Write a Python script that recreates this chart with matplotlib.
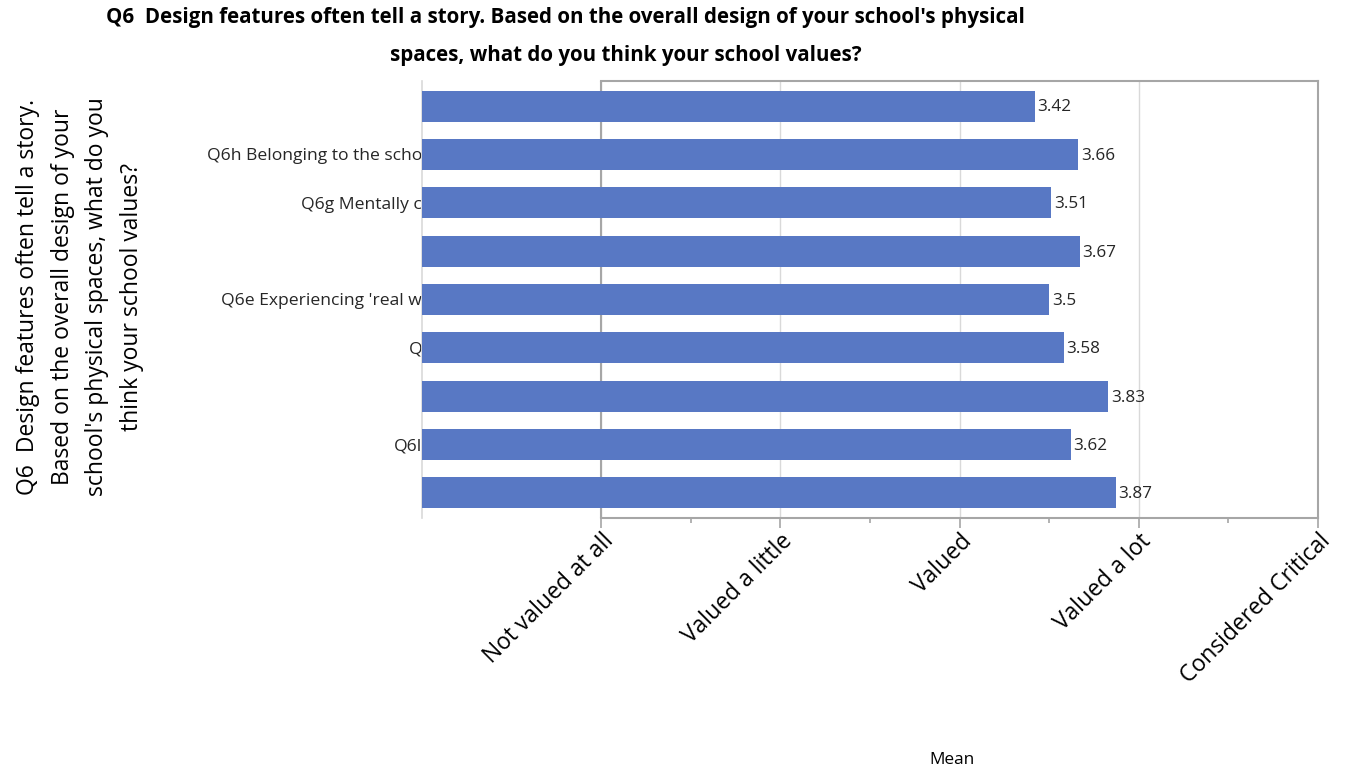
import numpy as np
import matplotlib.pyplot as plt

plt.rcParams["font.family"] = ["Open Sans", "DejaVu Sans"]

# rows top to bottom (only the visible fragments of the item labels)
ITEM_LABELS = [
    "",
    "Q6h Belonging to the scho",
    "Q6g Mentally c",
    "",
    "Q6e Experiencing 'real w",
    "Q",
    "",
    "Q6l",
    "",
]
MEANS = [3.42, 3.66, 3.51, 3.67, 3.50, 3.58, 3.83, 3.62, 3.87]
SCALE_TICKS = [1, 2, 3, 4, 5]
SCALE_LABELS = [
    "Not valued at all",
    "Valued a little",
    "Valued",
    "Valued a lot",
    "Considered Critical",
]

BAR_COLOR = "#5878c4"
GRID_COLOR = "#d9d9d9"
AXIS_COLOR = "#a6a6a6"

fig = plt.figure(figsize=(13.57, 7.66), dpi=100)
ax = fig.add_axes([0.311, 0.3238, 0.6603, 0.5705])

y = np.arange(len(MEANS))
bars = ax.barh(y, MEANS, height=0.64, color=BAR_COLOR, zorder=3)

for bar, val in zip(bars, MEANS):
    ax.annotate(
        f"{val:g}",
        xy=(bar.get_width(), bar.get_y() + bar.get_height() / 2),
        xytext=(2, -1),
        textcoords="offset points",
        ha="left",
        va="center",
        fontsize=12.3,
        color="#262626",
        zorder=4,
    )

ax.set_xlim(0, 5)
ax.set_ylim(len(MEANS) - 0.48, -0.52)

ax.set_yticks(y)
ax.set_yticklabels(ITEM_LABELS, fontsize=12.6, color="#262626")
ax.tick_params(axis="y", length=0, pad=0)

ax.set_xticks(SCALE_TICKS)
ax.set_xticklabels(
    SCALE_LABELS,
    rotation=45,
    ha="right",
    va="top",
    rotation_mode="anchor",
    fontsize=16.5,
)
ax.set_xticks(np.arange(1.5, 5, 1.0), minor=True)
ax.tick_params(axis="x", which="major", length=7.5, width=1.2, color=AXIS_COLOR, pad=0.5)
ax.tick_params(axis="x", which="minor", length=3.5, width=1.2, color=AXIS_COLOR)

ax.grid(True, axis="x", which="major", color=GRID_COLOR, linewidth=1, zorder=0)
ax.set_axisbelow(True)
ax.axvline(1, color=AXIS_COLOR, linewidth=1.5, zorder=2)

for side in ["top", "bottom", "right"]:
    ax.spines[side].set_color(AXIS_COLOR)
    ax.spines[side].set_linewidth(1.5)
ax.spines["top"].set_bounds(1, 5)
ax.spines["bottom"].set_bounds(1, 5)
ax.spines["left"].set_color(GRID_COLOR)
ax.spines["left"].set_linewidth(1.2)

fig.text(
    565 / 1357, 1 - 17 / 766,
    "Q6  Design features often tell a story. Based on the overall design of your school's physical",
    ha="center", va="center", fontsize=14.8, fontweight="bold",
)
fig.text(
    626 / 1357, 1 - 56 / 766,
    "spaces, what do you think your school values?",
    ha="center", va="center", fontsize=14.8, fontweight="bold",
)

fig.text(
    80 / 1357, 1 - 297 / 766,
    "Q6  Design features often tell a story.\nBased on the overall design of your\n"
    "school's physical spaces, what do you\nthink your school values?",
    rotation=90, ha="center", va="center", fontsize=16.5, linespacing=1.6,
)

fig.text(952 / 1357, 1 - 760 / 766, "Mean", ha="center", va="center", fontsize=12.4)

fig.savefig("out.png", dpi=100)
